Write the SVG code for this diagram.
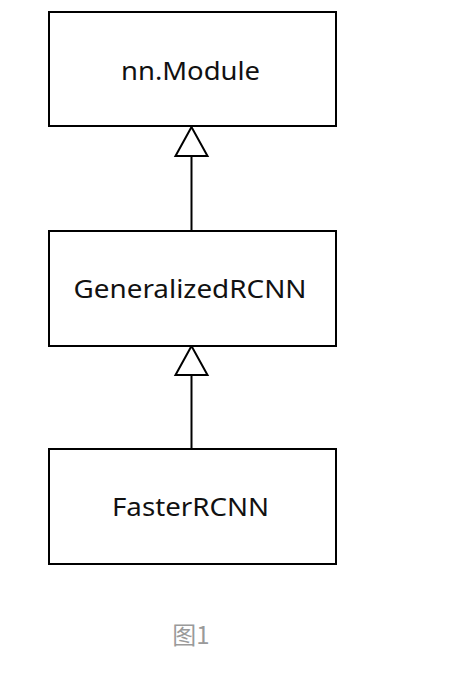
<svg xmlns="http://www.w3.org/2000/svg" width="465" height="679" viewBox="0 0 465 679">
<style>
.box{fill:#fff;stroke:#000;stroke-width:2}
.lbl{font-family:"Noto Sans","Noto Sans CJK SC",sans-serif;font-size:25px;fill:#111;text-anchor:middle}
.edge{stroke:#000;stroke-width:2;fill:none}
.tri{fill:#fff;stroke:#000;stroke-width:2;stroke-linejoin:miter}
.cap{font-family:"Noto Sans CJK SC","Noto Sans",sans-serif;font-size:24px;fill:#9a9a9a;text-anchor:middle}
</style>
<rect width="465" height="679" fill="#fff"/>
<g id="connectors">
<line class="edge" x1="191.5" y1="156" x2="191.5" y2="230"/>
<polygon class="tri" points="191.5,127 175.5,156 207.5,156"/>
<line class="edge" x1="191.5" y1="375" x2="191.5" y2="448"/>
<polygon class="tri" points="191.5,346 175.5,375 207.5,375"/>
</g>
<g id="nn-module">
<rect class="box" x="49" y="12" width="287" height="114"/>
<text class="lbl" x="190.5" y="80" textLength="139" lengthAdjust="spacingAndGlyphs">nn.Module</text>
</g>
<g id="generalized-rcnn">
<rect class="box" x="49" y="231" width="287" height="115"/>
<text class="lbl" x="190" y="298" textLength="233" lengthAdjust="spacingAndGlyphs">GeneralizedRCNN</text>
</g>
<g id="faster-rcnn">
<rect class="box" x="49" y="449" width="287" height="115"/>
<text class="lbl" x="190.5" y="516" textLength="157" lengthAdjust="spacingAndGlyphs">FasterRCNN</text>
</g>
<text class="cap" x="191" y="644">图1</text>
</svg>
